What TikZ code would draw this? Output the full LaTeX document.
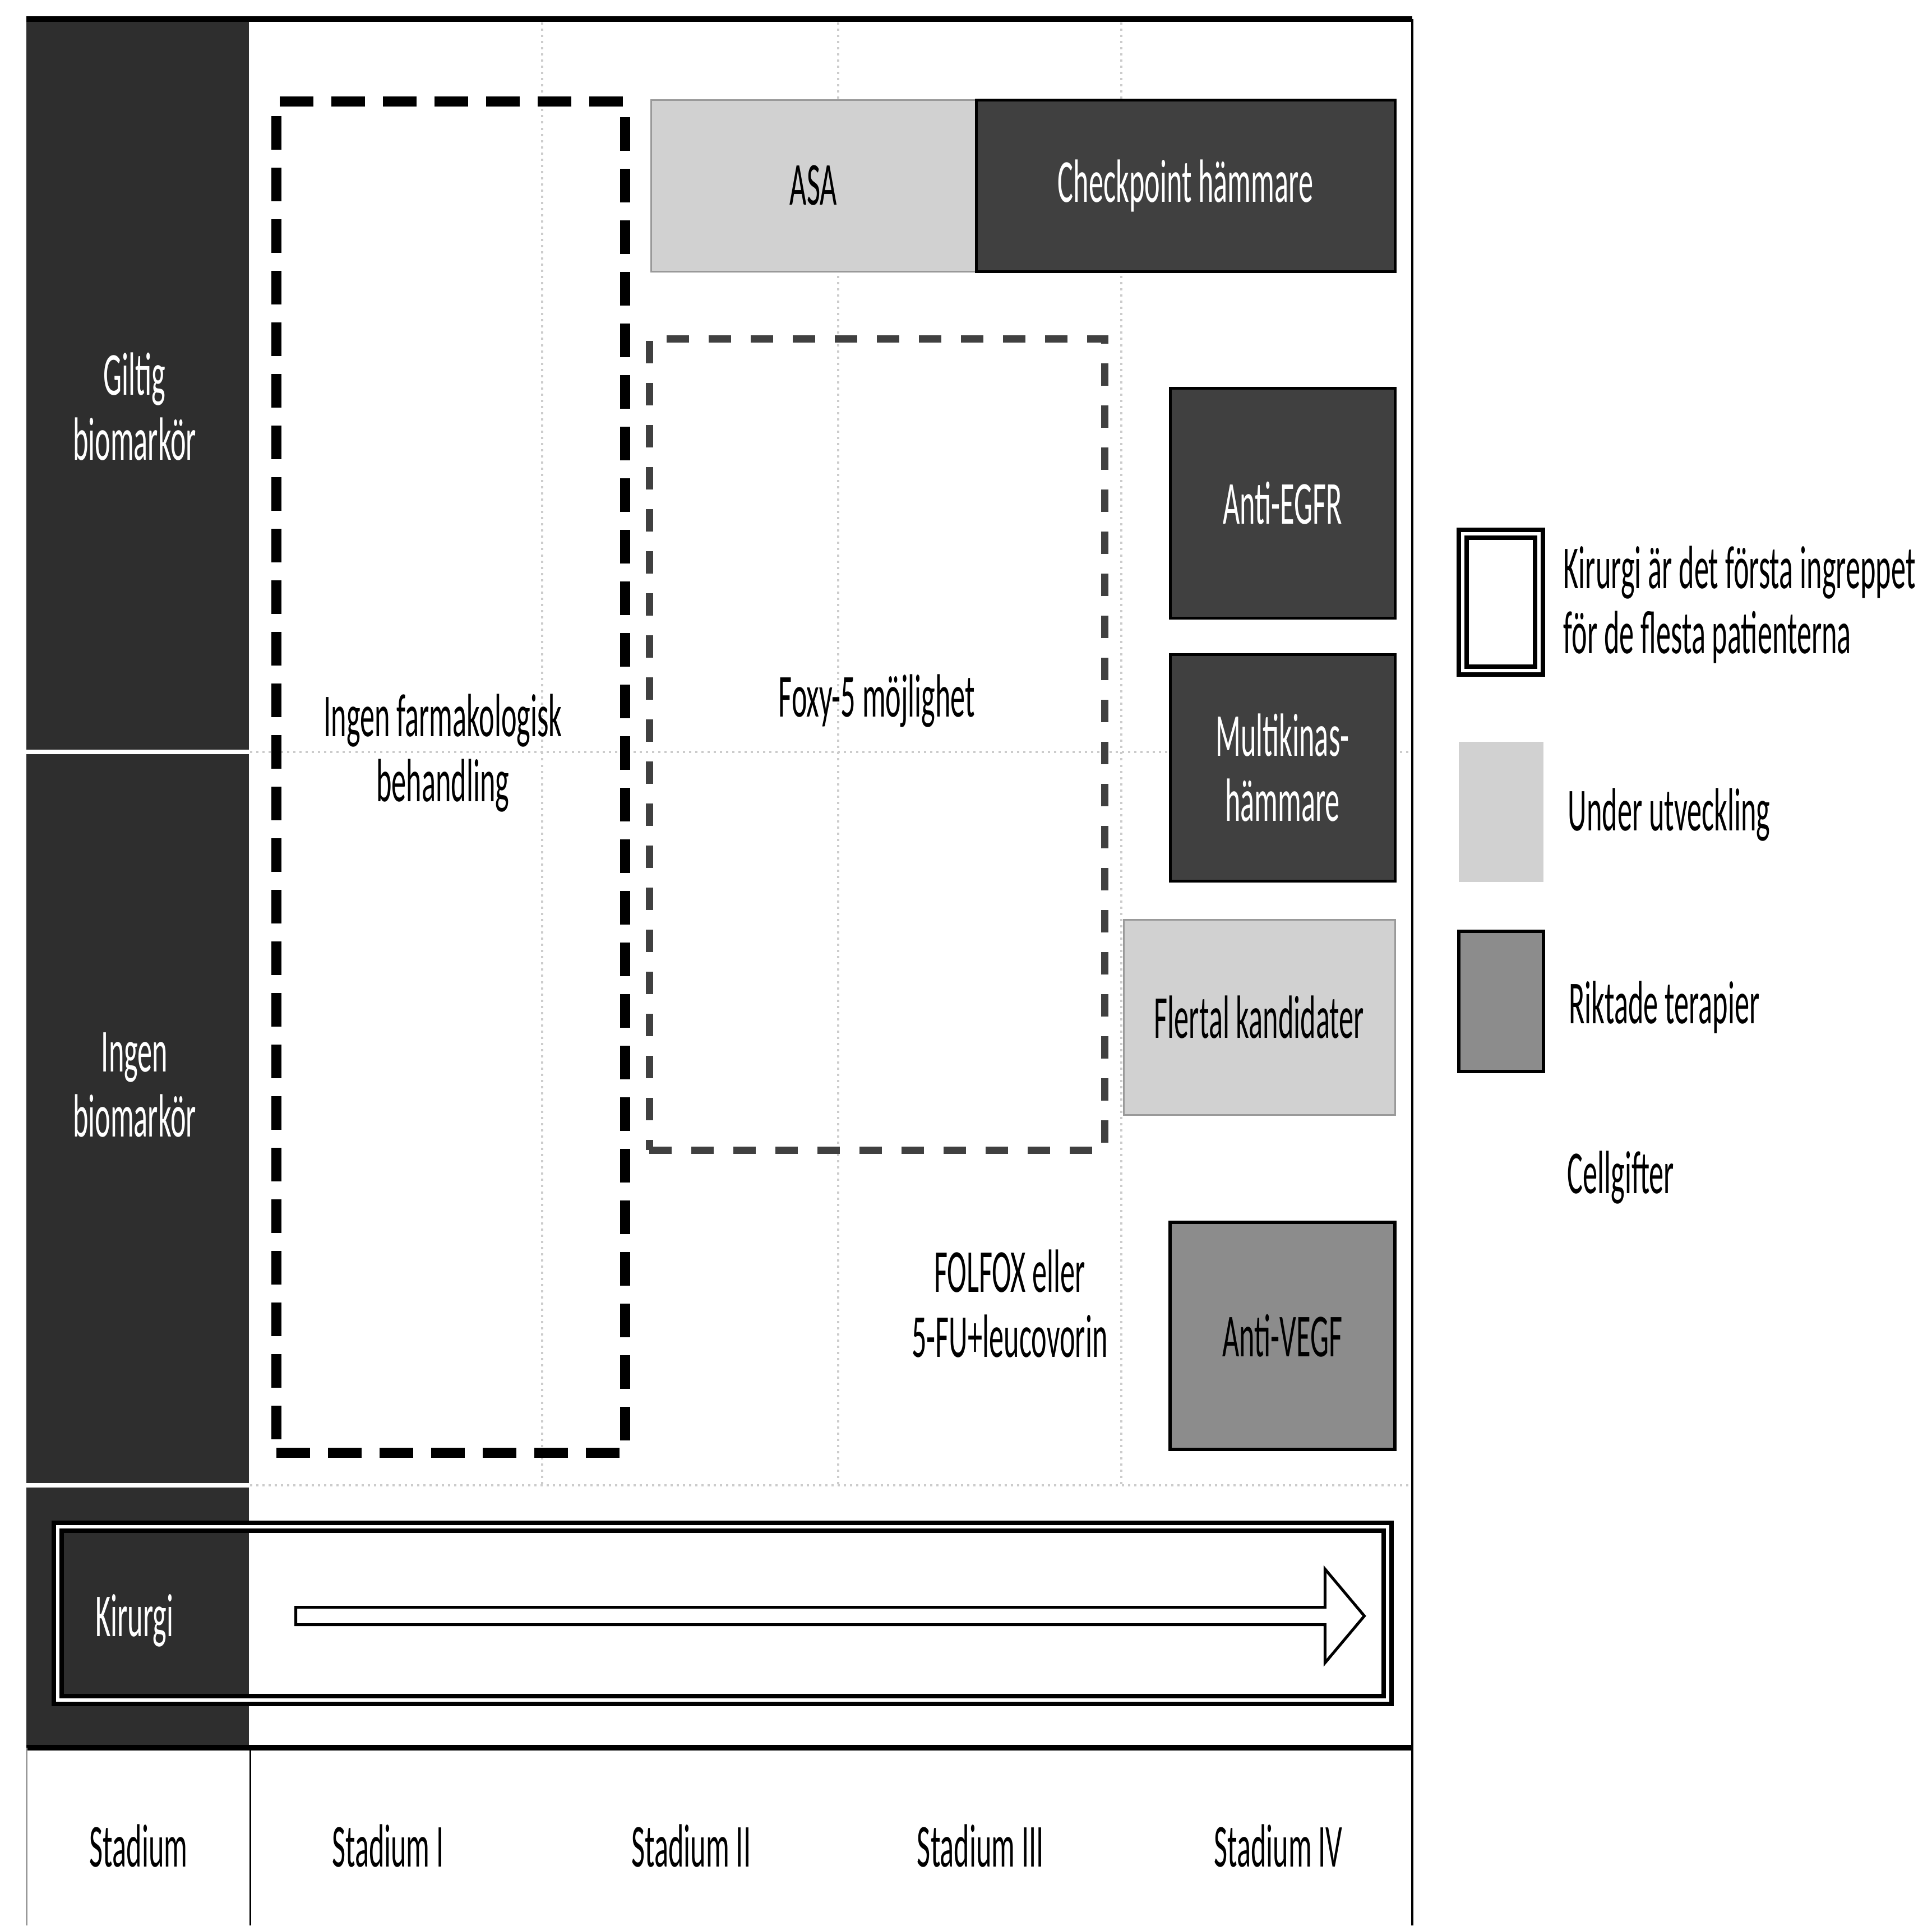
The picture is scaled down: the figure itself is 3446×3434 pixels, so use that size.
\documentclass[tikz,border=0pt]{standalone}
\usepackage{fontspec}
\setmainfont{Carlito}[FakeStretch=0.48]
\usetikzlibrary{shapes.arrows}
\tikzstyle{txt} = [font=\fontsize{31}{33}\selectfont, align=center, inner sep=0pt]
\tikzstyle{lab} = [txt, text=white]
\tikzstyle{darkbox} = [txt, draw=black, line width=.5mm, fill=black!75, text=white]
\tikzstyle{devbox} = [txt, draw=black!40, line width=.3mm, fill=black!18]
\tikzstyle{midbox} = [txt, draw=black, line width=.6mm, fill=black!45]
\tikzstyle{surgery} = [draw=black, line width=.8mm, double=white, double distance=.55mm]
\tikzstyle{bigdash} = [draw=black, line width=1.8mm, dash pattern=on 6mm off 3.2mm]
\tikzstyle{smalldash} = [draw=black!75, line width=1.3mm, dash pattern=on 4mm off 3.5mm]
\tikzstyle{gridline} = [black!20, line width=.4mm, dotted]
\tikzstyle{stagearrow} = [single arrow, draw=black, line width=.5mm, inner xsep=0pt, inner ysep=1.3mm,
    single arrow head extend=6.8mm, single arrow tip angle=100]

\begin{document}
\begin{tikzpicture}[x=.1mm, y=-.1mm]
    \useasboundingbox (0,0) rectangle (3446,3434);
    % rows and stages
    \foreach \x in {967,1495,2000}
        \draw[gridline] (\x,40) -- (\x,2649);
    \foreach \y in {1341,2649}
        \draw[gridline] (446,\y) -- (2519,\y);
    % left column
    \fill[black!82] (47,34) rectangle (444,3117);
    \foreach \y in {1341,2649}
        \draw[white, line width=.8mm] (47,\y) -- (444,\y);
    \draw[line width=1mm] (47,34) -- (2519,34);
    \draw[line width=.4mm] (2519,34) -- (2519,3434);
    \draw[line width=1mm] (47,3117) -- (2519,3117);
    \draw[line width=.3mm] (446,3117) -- (446,3434);
    \draw[black!40, line width=.3mm] (47,3117) -- (47,3434);

    \draw (240,725) node[lab] (giltig) {Giltig\\biomarkör};
    \draw (240,1935) node[lab] (ingen) {Ingen\\biomarkör};

    % treatments
    \draw (804,1386) node[bigdash, minimum width=62.2mm, minimum height=241mm] (nopharm) {};
    \draw (790,1343) node[txt] (nopharmtxt) {Ingen farmakologisk\\behandling};
    \draw (1564,1327.5) node[smalldash, minimum width=81.2mm, minimum height=144.7mm] (foxy) {};
    \draw (1564,1250) node[txt] (foxytxt) {Foxy-5 möjlighet};
    \draw (1451,331) node[devbox, minimum width=58mm, minimum height=30.6mm] (asa) {ASA};
    \draw (2114.5,331) node[darkbox, minimum width=74.7mm, minimum height=30.6mm] (chk) {Checkpoint hämmare};
    \draw (2287.5,897) node[darkbox, minimum width=40.1mm, minimum height=41mm] (egfr) {Anti-EGFR};
    \draw (2287.5,1369) node[darkbox, minimum width=40.1mm, minimum height=40.4mm] (mki) {Multikinas-\\hämmare};
    \draw (2246,1814) node[devbox, minimum width=48.4mm, minimum height=34.8mm] (flt) {Flertal kandidater};
    \draw (2287.5,2382.5) node[midbox, minimum width=40.1mm, minimum height=40.5mm] (vegf) {Anti-VEGF};
    \draw (1801,2325) node[txt] (folfox) {FOLFOX eller\\5-FU+leucovorin};

    % surgery
    \draw (1289,2877.5) node[surgery, minimum width=237.2mm, minimum height=30.9mm] (kir) {};
    \draw (240,2890) node[lab] (kirtxt) {Kirurgi};
    \draw (1474,2882) node[stagearrow, minimum height=190.6mm] (arrow) {};

    % stages
    \draw (247,3292) node[txt] (st0) {Stadium};
    \draw (692,3292) node[txt] (st1) {Stadium I};
    \draw (1233,3292) node[txt] (st2) {Stadium II};
    \draw (1749,3292) node[txt] (st3) {Stadium III};
    \draw (2280,3292) node[txt] (st4) {Stadium IV};

    % legend
    \draw (2677,1074) node[surgery, minimum width=13.6mm, minimum height=24.4mm] (sw1) {};
    \draw (2677,1448) node[devbox, draw=none, minimum width=15.1mm, minimum height=25mm] (sw2) {};
    \draw (2677,1786) node[midbox, minimum width=15.1mm, minimum height=25mm] (sw3) {};
    \draw (sw1.east) ++(39,4) node[txt, anchor=west, align=left] (lg1) {Kirurgi är det första ingreppet\\för de flesta patienterna};
    \draw (sw2.east) ++(42,5) node[txt, anchor=west] (lg2) {Under utveckling};
    \draw (sw3.east) ++(42,10) node[txt, anchor=west] (lg3) {Riktade terapier};
    \draw (2795,2100) node[txt, anchor=west] (lg4) {Cellgifter};
\end{tikzpicture}
\end{document}
